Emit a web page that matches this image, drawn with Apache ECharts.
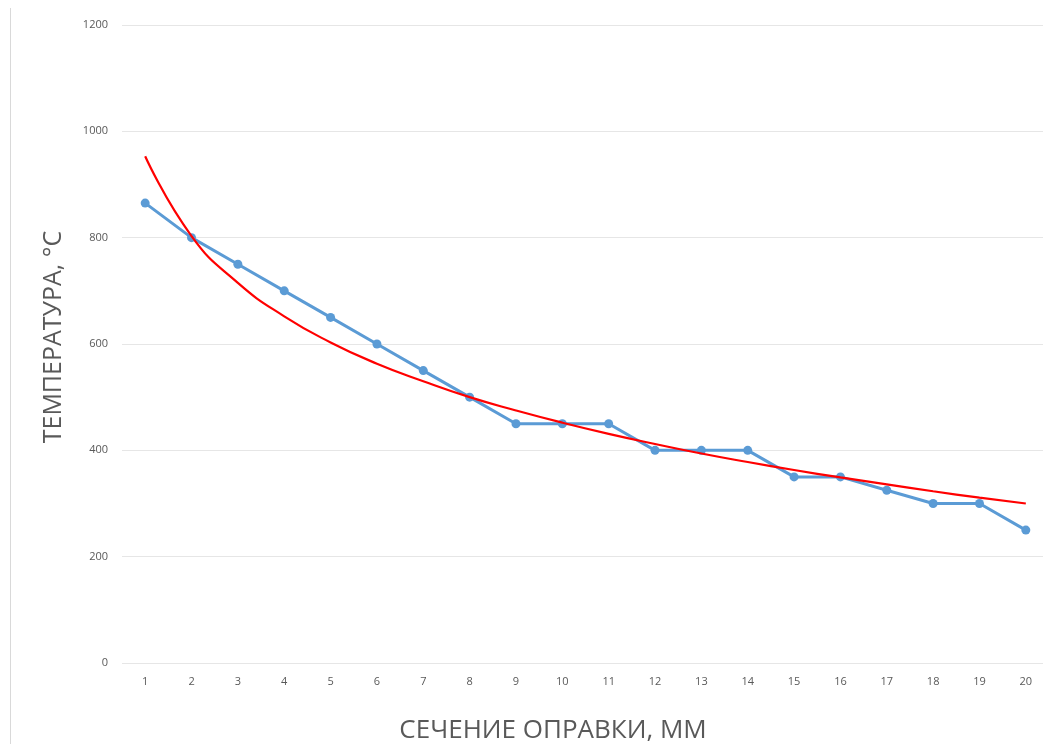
<!DOCTYPE html>
<html><head><meta charset="utf-8">
<script src="https://cdn.jsdelivr.net/npm/echarts@6/dist/echarts.min.js"></script>
<style>html,body{margin:0;padding:0;background:#fff}#c{width:1043px;height:744px}</style>
</head><body><div id="c"></div>
<script>
const categories = ['1','2','3','4','5','6','7','8','9','10','11','12','13','14','15','16','17','18','19','20'];
const measured = [865, 800, 750, 700, 650, 600, 550, 500, 450, 450, 450, 400, 400, 400, 350, 350, 325, 300, 300, 250];
const trend = [953, 803, 715, 652, 603, 563, 530, 500, 475, 452, 431, 412, 394, 378, 363, 349, 336, 323, 311, 300];
const yTitle = 'ТЕМПЕРАТУРА, °C';
const xTitle = 'СЕЧЕНИЕ ОПРАВКИ, ММ';

const chart = echarts.init(document.getElementById('c'));
chart.setOption({
  animation: false,
  backgroundColor: '#fff',
  grid: { left: 122, top: 25, width: 927, height: 638, containLabel: false, outerBoundsMode: 'none' },
  graphic: [
    { type: 'line', shape: { x1: 10.5, y1: 8, x2: 10.5, y2: 744 }, style: { stroke: '#d9d9d9', lineWidth: 1 } },
    { type: 'text', x: 553, y: 731, style: { text: xTitle, fill: '#595959', font: '26px "Open Sans"', align: 'center', verticalAlign: 'middle' } },
    { type: 'text', x: 54, y: 337, rotation: Math.PI / 2, style: { text: yTitle, fill: '#595959', font: '25px "Open Sans"', align: 'center', verticalAlign: 'middle' } }
  ],
  xAxis: {
    type: 'category', data: categories, boundaryGap: true,
    axisLine: { show: false }, axisTick: { show: false },
    axisLabel: { color: '#595959', fontSize: 11, fontFamily: 'Open Sans', margin: 13 }
  },
  yAxis: {
    type: 'value', min: 0, max: 1200, interval: 200,
    axisLine: { show: false }, axisTick: { show: false },
    splitLine: { lineStyle: { color: '#e6e6e6', width: 1 } },
    axisLabel: { color: '#595959', fontSize: 11, fontFamily: 'Open Sans', margin: 14, formatter: function (v) { return String(v); } }
  },
  series: [
    {
      type: 'line', data: measured, symbol: 'circle', symbolSize: 9,
      lineStyle: { color: '#5B9BD5', width: 3 },
      itemStyle: { color: '#5B9BD5' }, z: 2
    },
    {
      type: 'line', data: trend, symbol: 'none', smooth: 0.5,
      lineStyle: { color: '#FF0000', width: 2.2 }, z: 3
    }
  ]
});
</script></body></html>
